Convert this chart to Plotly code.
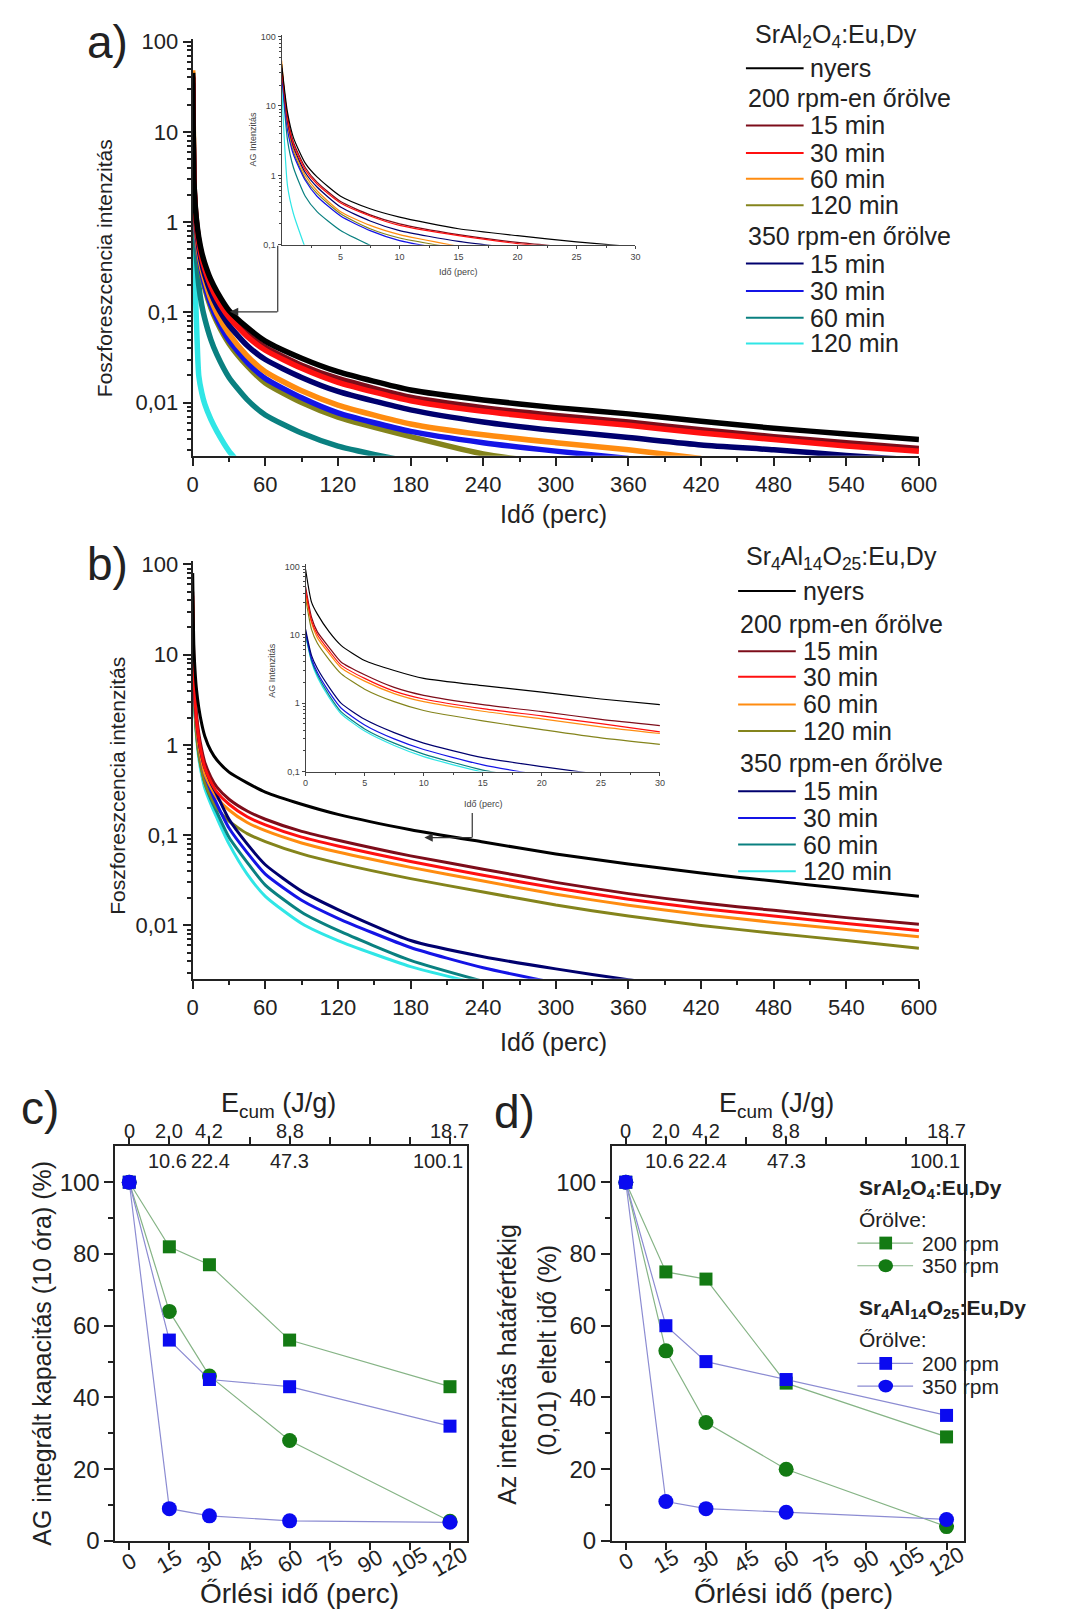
import plotly.graph_objects as go

W, H = 1065, 1623
FONT = "Liberation Sans, Arial, sans-serif"


def fx(p):
    return p / W


def fy(p):
    return 1 - p / H


# ---------------- data ----------------
# afterglow decay, main panels (time in minutes)
T_MAIN = [0, 1, 2, 3, 5, 7.5, 10, 15, 20, 30, 45, 60, 90, 120, 180, 240, 300, 360, 420, 480, 540, 600]
# afterglow decay, insets (first 30 minutes)
T_INSET = [0, 0.5, 1, 2, 3, 5, 7.5, 10, 15, 20, 25, 30]

series_labels = ["nyers", "15 min", "30 min", "60 min", "120 min", "15 min", "30 min", "60 min", "120 min"]
series_colors = ["#000000", "#7d0d1a", "#ff1010", "#ff8c10", "#84841c",
                 "#00006e", "#1414e6", "#0a8080", "#30e6e6"]

# a) SrAl2O4:Eu,Dy
a_nyers = [45, 3.0, 1.6, 1.1, 0.68, 0.46, 0.35, 0.23, 0.17, 0.105, 0.068, 0.048, 0.031, 0.022, 0.0138, 0.0107, 0.0088, 0.0075, 0.0062, 0.0052, 0.0045, 0.0039]
a_200_15 = [40, 3.0, 1.55, 1.05, 0.63, 0.42, 0.32, 0.205, 0.15, 0.093, 0.058, 0.041, 0.026, 0.0185, 0.0115, 0.0088, 0.0072, 0.0061, 0.005, 0.0042, 0.0036, 0.0031]
a_200_30 = [42, 2.9, 1.5, 1.0, 0.6, 0.4, 0.3, 0.195, 0.142, 0.088, 0.054, 0.038, 0.024, 0.0168, 0.0105, 0.008, 0.0066, 0.0056, 0.0046, 0.0039, 0.0033, 0.0029]
a_200_60 = [48, 2.6, 1.3, 0.85, 0.48, 0.31, 0.23, 0.14, 0.098, 0.058, 0.033, 0.022, 0.0135, 0.0094, 0.0058, 0.0044, 0.0036, 0.003, 0.0024, None, None, None]
a_200_120 = [40, 2.3, 1.15, 0.74, 0.41, 0.26, 0.185, 0.112, 0.078, 0.045, 0.0255, 0.0165, 0.01, 0.0069, 0.0042, 0.0027, 0.0021, None, None, None, None, None]
a_350_15 = [35, 2.7, 1.4, 0.92, 0.54, 0.35, 0.26, 0.165, 0.118, 0.072, 0.043, 0.03, 0.019, 0.0133, 0.0083, 0.0061, 0.0049, 0.0041, 0.0034, 0.003, 0.0026, 0.0023]
a_350_30 = [30, 2.4, 1.2, 0.78, 0.44, 0.28, 0.2, 0.122, 0.085, 0.049, 0.028, 0.0185, 0.0113, 0.0077, 0.0048, 0.0036, 0.0029, 0.0024, None, None, None, None]
a_350_60 = [30, 1.6, 0.7, 0.42, 0.2, 0.12, 0.085, 0.05, 0.034, 0.019, 0.0108, 0.0073, 0.0046, 0.0033, 0.0022, None, None, None, None, None, None, None]
a_350_120 = [20, 0.6, 0.2, 0.085, 0.02, 0.0128, 0.0096, 0.0065, 0.0048, 0.0029, 0.0017, None, None, None, None, None, None, None, None, None, None, None]

ia_nyers = [40, 8, 3.5, 1.5, 0.95, 0.5, 0.33, 0.25, 0.17, 0.135, 0.11, 0.093]
ia_200_15 = [35, 7, 3.0, 1.3, 0.8, 0.42, 0.27, 0.2, 0.14, 0.108, 0.09, None]
ia_200_30 = [35, 6.5, 2.8, 1.2, 0.75, 0.4, 0.26, 0.19, 0.135, 0.104, 0.088, None]
ia_200_60 = [45, 5.5, 2.4, 1.0, 0.6, 0.3, 0.19, 0.14, 0.095, None, None, None]
ia_200_120 = [40, 5, 2.2, 0.9, 0.55, 0.28, 0.17, 0.125, 0.088, None, None, None]
ia_350_15 = [35, 6, 2.6, 1.1, 0.68, 0.35, 0.22, 0.16, 0.112, 0.088, None, None]
ia_350_30 = [30, 4.5, 2.0, 0.85, 0.5, 0.26, 0.16, 0.115, 0.08, None, None, None]
ia_350_60 = [30, 3.2, 1.3, 0.5, 0.3, 0.16, 0.098, None, None, None, None, None]
ia_350_120 = [20, 0.7, 0.28, 0.09, None, None, None, None, None, None, None, None]

# b) Sr4Al14O25:Eu,Dy
b_nyers = [80, 12, 6.5, 4.3, 2.6, 1.7, 1.25, 0.86, 0.68, 0.5, 0.38, 0.3, 0.22, 0.17, 0.115, 0.084, 0.062, 0.048, 0.038, 0.031, 0.0255, 0.021]
b_200_15 = [50, 7, 3.6, 2.3, 1.35, 0.88, 0.64, 0.44, 0.34, 0.25, 0.185, 0.15, 0.11, 0.088, 0.059, 0.042, 0.03, 0.0225, 0.0178, 0.0147, 0.0122, 0.0103]
b_200_30 = [45, 6.2, 3.2, 2.0, 1.18, 0.77, 0.56, 0.39, 0.3, 0.22, 0.16, 0.13, 0.095, 0.076, 0.051, 0.036, 0.026, 0.0195, 0.0154, 0.0127, 0.0105, 0.0088]
b_200_60 = [40, 5.4, 2.8, 1.75, 1.0, 0.66, 0.48, 0.34, 0.26, 0.19, 0.138, 0.112, 0.082, 0.065, 0.044, 0.031, 0.0222, 0.0167, 0.0132, 0.0108, 0.009, 0.0075]
b_200_120 = [35, 4.4, 2.3, 1.4, 0.8, 0.52, 0.38, 0.265, 0.2, 0.143, 0.104, 0.085, 0.062, 0.049, 0.033, 0.0235, 0.0168, 0.0127, 0.01, 0.0082, 0.0068, 0.0056]
b_350_15 = [11, 5.0, 3.0, 2.0, 1.15, 0.75, 0.56, 0.38, 0.28, 0.15, 0.08, 0.047, 0.024, 0.015, 0.0068, 0.0045, 0.0033, 0.0025, 0.002, None, None, None]
b_350_30 = [10, 4.5, 2.7, 1.8, 1.0, 0.65, 0.47, 0.31, 0.22, 0.12, 0.064, 0.037, 0.019, 0.012, 0.0057, 0.0034, 0.0023, None, None, None, None, None]
b_350_60 = [9, 3.8, 2.2, 1.45, 0.82, 0.53, 0.38, 0.25, 0.18, 0.095, 0.05, 0.028, 0.014, 0.0088, 0.0041, 0.0024, None, None, None, None, None, None]
b_350_120 = [9, 3.6, 2.0, 1.3, 0.72, 0.46, 0.33, 0.22, 0.155, 0.08, 0.037, 0.021, 0.0105, 0.0068, 0.0035, 0.0022, None, None, None, None, None, None]

ib_nyers = [90, 30, 20, 11, 7, 4.2, 3.0, 2.3, 1.8, 1.45, 1.15, 0.95]
ib_200_15 = [50, 18, 11, 6.5, 4, 2.6, 1.7, 1.3, 0.95, 0.75, 0.58, 0.47]
ib_200_30 = [45, 16, 10, 5.8, 3.6, 2.3, 1.5, 1.15, 0.83, 0.65, 0.5, 0.38]
ib_200_60 = [40, 15, 9, 5.3, 3.3, 2.1, 1.38, 1.05, 0.76, 0.59, 0.45, 0.36]
ib_200_120 = [35, 12, 7.5, 4.3, 2.7, 1.6, 1.05, 0.78, 0.55, 0.41, 0.31, 0.25]
ib_350_15 = [12, 5, 3.2, 1.7, 1.0, 0.58, 0.37, 0.26, 0.16, 0.118, 0.09, None]
ib_350_30 = [11, 4.5, 2.8, 1.45, 0.85, 0.48, 0.3, 0.21, 0.125, 0.088, None, None]
ib_350_60 = [10, 4.2, 2.6, 1.3, 0.75, 0.42, 0.26, 0.18, 0.105, 0.075, None, None]
ib_350_120 = [10, 4.0, 2.4, 1.2, 0.7, 0.39, 0.24, 0.165, 0.098, 0.07, None, None]

# c), d) milling series
mill_time = [0, 15, 30, 60, 120]
c_sral_200 = [100, 82, 77, 56, 43]
c_sral_350 = [100, 64, 46, 28, 5.5]
c_sr4_200 = [100, 56, 45, 43, 32]
c_sr4_350 = [100, 9, 7, 5.6, 5.2]
d_sral_200 = [100, 75, 73, 44, 29]
d_sral_350 = [100, 53, 33, 20, 4]
d_sr4_200 = [100, 60, 50, 45, 35]
d_sr4_350 = [100, 11, 9, 8, 6]

# cumulative milling energy labels on the top axis
ecum_upper_pos = [0, 15, 30, 60, 120]
ecum_upper_text = ["0", "2.0", "4.2", "8.8", "18.7"]
ecum_lower_pos = [14.5, 30.5, 60, 115.5]
ecum_lower_text = ["10.6", "22.4", "47.3", "100.1"]

log_ticks = [0.01, 0.1, 1, 10, 100]
log_text = ["0,01", "0,1", "1", "10", "100"]
time_ticks = list(range(0, 601, 60))
mill_ticks = [0, 15, 30, 45, 60, 75, 90, 105, 120]
mill_tick_text = ["0", "15", "30", "45", "60", "75", "90", "105", "120"]

GREEN = "#137a13"
BLUE = "#0a0af0"
GREEN_LINE = "#86b486"
BLUE_LINE = "#8c8cd2"

fig = go.Figure()


def add_decays(xs, series, width, xa, ya, order):
    for i in order:
        fig.add_trace(go.Scatter(
            x=xs, y=series[i], mode="lines",
            line=dict(color=series_colors[i], width=width, shape="spline", smoothing=0.6),
            xaxis=xa, yaxis=ya, showlegend=False, hoverinfo="skip"))


draw_order = [8, 7, 4, 6, 3, 5, 1, 2, 0]
a_series = [a_nyers, a_200_15, a_200_30, a_200_60, a_200_120, a_350_15, a_350_30, a_350_60, a_350_120]
ia_series = [ia_nyers, ia_200_15, ia_200_30, ia_200_60, ia_200_120, ia_350_15, ia_350_30, ia_350_60, ia_350_120]
b_series = [b_nyers, b_200_15, b_200_30, b_200_60, b_200_120, b_350_15, b_350_30, b_350_60, b_350_120]
ib_series = [ib_nyers, ib_200_15, ib_200_30, ib_200_60, ib_200_120, ib_350_15, ib_350_30, ib_350_60, ib_350_120]

add_decays(T_MAIN, a_series, 5.5, "x", "y", draw_order)
add_decays(T_INSET, ia_series, 1.2, "x2", "y2", draw_order)
add_decays(T_MAIN, b_series, 3, "x3", "y3", draw_order)
add_decays(T_INSET, ib_series, 1.2, "x4", "y4", draw_order)


def add_mill(ys, color, lcolor, symbol, size, xa, ya):
    fig.add_trace(go.Scatter(
        x=mill_time, y=ys, mode="lines+markers",
        line=dict(color=lcolor, width=1.2),
        marker=dict(color=color, symbol=symbol, size=size, line=dict(width=0)),
        xaxis=xa, yaxis=ya, showlegend=False, hoverinfo="skip", cliponaxis=False))


for xa, ya, s200, s350, r200, r350 in [("x5", "y5", c_sral_200, c_sral_350, c_sr4_200, c_sr4_350),
                                        ("x7", "y7", d_sral_200, d_sral_350, d_sr4_200, d_sr4_350)]:
    add_mill(s200, GREEN, GREEN_LINE, "square", 13, xa, ya)
    add_mill(s350, GREEN, GREEN_LINE, "circle", 15, xa, ya)
    add_mill(r200, BLUE, BLUE_LINE, "square", 13, xa, ya)
    add_mill(r350, BLUE, BLUE_LINE, "circle", 15, xa, ya)


# ---------------- axes ----------------
def log_minor(lo, hi):
    vals = []
    e = lo
    while e < hi:
        for m in range(2, 10):
            vals.append(m * 10 ** e)
        e += 1
    return vals


main_x = dict(range=[0, 600], tickmode="array", tickvals=time_ticks, ticks="outside", ticklen=8,
              tickwidth=1.5, tickcolor="#222", showline=True, linewidth=2, linecolor="#222",
              showgrid=False, zeroline=False, tickfont=dict(size=22, color="#222", family=FONT),
              minor=dict(tickmode="array", tickvals=list(range(30, 600, 60)), ticks="outside",
                         ticklen=4, tickcolor="#222", showgrid=False))
main_y = dict(type="log", range=[-2.59, 2.033], tickmode="array", tickvals=log_ticks, ticktext=log_text,
              ticks="outside", ticklen=8, tickwidth=1.5, tickcolor="#222", showline=True, linewidth=2,
              linecolor="#222", showgrid=False, zeroline=False,
              tickfont=dict(size=22, color="#222", family=FONT),
              minor=dict(tickmode="array", tickvals=log_minor(-3, 2), ticks="outside", ticklen=4,
                         tickcolor="#222", showgrid=False))

inset_font = dict(size=9, color="#444", family=FONT)


def inset_x(labels):
    return dict(range=[0, 30], tickmode="array", tickvals=labels, ticks="outside", ticklen=3,
                tickcolor="#444", showline=True, linewidth=1, linecolor="#444", showgrid=False,
                zeroline=False, tickfont=inset_font,
                minor=dict(tickmode="array", tickvals=[2.5, 7.5, 12.5, 17.5, 22.5, 27.5],
                           ticks="outside", ticklen=2, tickcolor="#444", showgrid=False))


def inset_y(top):
    return dict(type="log", range=[-1, top], tickmode="array", tickvals=[0.1, 1, 10, 100],
                ticktext=["0,1", "1", "10", "100"], ticks="outside", ticklen=3, tickcolor="#444",
                showline=True, linewidth=1, linecolor="#444", showgrid=False, zeroline=False,
                tickfont=inset_font,
                minor=dict(tickmode="array", tickvals=log_minor(-1, 2), ticks="outside", ticklen=2,
                           tickcolor="#444", showgrid=False))


mill_range = [-5.15, 126.5]
mill_font = dict(size=24, color="#222", family=FONT)


def mill_x():
    return dict(range=mill_range, tickmode="array", tickvals=mill_ticks, showticklabels=False,
                ticks="outside", ticklen=7, tickwidth=1.5, tickcolor="#222", showline=True,
                linewidth=2, linecolor="#222", mirror="allticks", showgrid=False, zeroline=False)


def mill_top(over, anchor):
    return dict(range=mill_range, overlaying=over, anchor=anchor, side="top", tickmode="array",
                tickvals=mill_ticks, showticklabels=False, ticks="inside", ticklen=7, tickwidth=1.5,
                tickcolor="#222", showline=False, showgrid=False, zeroline=False)


def mill_y():
    return dict(range=[0, 110], tickmode="array", tickvals=[0, 20, 40, 60, 80, 100], ticks="outside",
                ticklen=9, tickwidth=1.5, tickcolor="#222", showline=True, linewidth=2,
                linecolor="#222", mirror=True, showgrid=False, zeroline=False, tickfont=mill_font,
                minor=dict(tickmode="array", tickvals=[10, 30, 50, 70, 90], ticks="outside",
                           ticklen=5, tickcolor="#222", showgrid=False))


layout = dict(
    width=W, height=H, autosize=False, margin=dict(l=0, r=0, t=0, b=0),
    paper_bgcolor="white", plot_bgcolor="rgba(0,0,0,0)", font=dict(family=FONT, color="#222"),
    xaxis=dict(domain=[fx(191), fx(934)], anchor="y", **main_x),
    yaxis=dict(domain=[fy(453), fy(30)], anchor="x", **main_y),
    xaxis2=dict(domain=[fx(282), fx(644)], anchor="y2", **inset_x([5, 10, 15, 20, 25, 30])),
    yaxis2=dict(domain=[fy(239), fy(26)], anchor="x2", **inset_y(2.028)),
    xaxis3=dict(domain=[fx(191), fx(934)], anchor="y3", **main_x),
    yaxis3=dict(domain=[fy(983), fy(560)], anchor="x3", **main_y),
    xaxis4=dict(domain=[fx(306.5), fx(669)], anchor="y4", **inset_x([0, 5, 10, 15, 20, 25, 30])),
    yaxis4=dict(domain=[fy(773), fy(563)], anchor="x4", **inset_y(2.029)),
    xaxis5=dict(domain=[fx(112), fx(472)], anchor="y5", **mill_x()),
    xaxis6=mill_top("x5", "y5"),
    yaxis5=dict(domain=[fy(1553), fy(1153)], anchor="x5", **mill_y()),
    xaxis7=dict(domain=[fx(620), fx(980)], anchor="y7", **mill_x()),
    xaxis8=mill_top("x7", "y7"),
    yaxis7=dict(domain=[fy(1553), fy(1153)], anchor="x7", **mill_y()),
)
fig.update_layout(**layout)

annotations = []
shapes = []


def text(x, y, s, size, angle=0, color="#222", xanchor="center", xref="paper", bold=False):
    if bold:
        s = "<b>" + s + "</b>"
    annotations.append(dict(x=x if xref != "paper" else fx(x), y=fy(y), xref=xref, yref="paper",
                            text=s, showarrow=False, textangle=angle, xanchor=xanchor,
                            yanchor="middle", font=dict(size=size, color=color, family=FONT)))


# panel letters
text(104, 33, "a)", 46)
text(104, 563, "b)", 46)
text(35, 1114, "c)", 46)
text(520, 1118, "d)", 46)

# main axis titles
text(560, 512, "Idő (perc)", 25)
text(560, 1047, "Idő (perc)", 25)
text(101, 263, "Foszforeszcencia intenzitás", 21, angle=-90)
text(114, 787, "Foszforeszcencia intenzitás", 21, angle=-90)

# inset titles
text(253, 132, "AG Intenzitás", 9, angle=-90, color="#444")
text(463, 267, "Idő (perc)", 9, color="#444")
text(272, 670, "AG Intenzitás", 9, angle=-90, color="#444")
text(488, 806, "Idő (perc)", 9, color="#444")

# arrows from the insets to the main curves
shapes.append(dict(type="line", xref="paper", yref="paper", x0=fx(278), y0=fy(240), x1=fx(278),
                   y1=fy(307), line=dict(color="#333", width=1.2)))
annotations.append(dict(x=fx(229), y=fy(307), xref="paper", yref="paper", ax=49, ay=0, axref="pixel",
                        ayref="pixel", text="", showarrow=True, arrowhead=2, arrowsize=1.4,
                        arrowwidth=1.2, arrowcolor="#333"))
shapes.append(dict(type="line", xref="paper", yref="paper", x0=fx(477), y0=fy(815), x1=fx(477),
                   y1=fy(840), line=dict(color="#333", width=1.2)))
annotations.append(dict(x=fx(428), y=fy(840), xref="paper", yref="paper", ax=49, ay=0, axref="pixel",
                        ayref="pixel", text="", showarrow=True, arrowhead=2, arrowsize=1.4,
                        arrowwidth=1.2, arrowcolor="#333"))


# legends of the decay panels
def decay_legend(header, hx, hy, lx0, lx1, tx, rows):
    text(hx, hy, header, 25, xanchor="left")
    for kind, y, idx, label in rows:
        if kind == "h":
            text(lx0, y, label, 25, xanchor="left")
        else:
            shapes.append(dict(type="line", xref="paper", yref="paper", x0=fx(lx0), x1=fx(lx1),
                               y0=fy(y), y1=fy(y), line=dict(color=series_colors[idx], width=2)))
            text(tx, y, label, 25, xanchor="left")


def legend_rows(ys):
    return [("l", ys[0], 0, series_labels[0]),
            ("h", ys[1], None, "200 rpm-en őrölve"),
            ("l", ys[2], 1, series_labels[1]),
            ("l", ys[3], 2, series_labels[2]),
            ("l", ys[4], 3, series_labels[3]),
            ("l", ys[5], 4, series_labels[4]),
            ("h", ys[6], None, "350 rpm-en őrölve"),
            ("l", ys[7], 5, series_labels[5]),
            ("l", ys[8], 6, series_labels[6]),
            ("l", ys[9], 7, series_labels[7]),
            ("l", ys[10], 8, series_labels[8])]


decay_legend("SrAl<sub>2</sub>O<sub>4</sub>:Eu,Dy", 764, 27, 757, 816, 821,
             legend_rows([60, 90, 118, 146, 172, 199, 230, 258, 286, 313, 339]))
decay_legend("Sr<sub>4</sub>Al<sub>14</sub>O<sub>25</sub>:Eu,Dy", 755, 557, 749, 808, 813,
             legend_rows([590, 623, 651, 677, 705, 732, 764, 793, 820, 847, 874]))

# milling panels: tick labels, titles and energy labels
for xa, cx_title, cx_e in [("x5", 300, 279), ("x7", 806, 788)]:
    for p, s in zip(mill_ticks, mill_tick_text):
        text(p, 1574, s, 22, angle=-30, xref=xa)
    text(cx_title, 1606, "Őrlési idő (perc)", 28)
    text(cx_e, 1111, "E<sub>cum</sub> (J/g)", 27)
    for p, s in zip(ecum_upper_pos, ecum_upper_text):
        text(p, 1137, s, 20, xref=xa)
    for p, s in zip(ecum_lower_pos, ecum_lower_text):
        text(p, 1168, s, 20, xref=xa)

text(36, 1363, "AG integrált kapacitás (10 óra) (%)", 25, angle=-90)
text(513, 1374, "Az intenzitás határértékig", 25, angle=-90)
text(553, 1360, "(0,01) eltelt idő (%)", 25, angle=-90)

# legend of panel d
leg_x0, leg_x1, leg_mx, leg_tx = 871, 928, 900, 935
text(leg_x0, 1196, "SrAl<sub>2</sub>O<sub>4</sub>:Eu,Dy", 21, xanchor="left", bold=True)
text(leg_x0, 1227, "Őrölve:", 21, xanchor="left")
text(leg_x0, 1318, "Sr<sub>4</sub>Al<sub>14</sub>O<sub>25</sub>:Eu,Dy", 21, xanchor="left", bold=True)
text(leg_x0, 1349, "Őrölve:", 21, xanchor="left")
for y, color, lcolor, sym, label in [(1251, GREEN, GREEN_LINE, "rect", "200 rpm"),
                                     (1274, GREEN, GREEN_LINE, "circle", "350 rpm"),
                                     (1373, BLUE, BLUE_LINE, "rect", "200 rpm"),
                                     (1396, BLUE, BLUE_LINE, "circle", "350 rpm")]:
    shapes.append(dict(type="line", xref="paper", yref="paper", x0=fx(leg_x0), x1=fx(leg_x1),
                       y0=fy(y), y1=fy(y), line=dict(color=lcolor, width=1.2)))
    r = 6.5 if sym == "rect" else 7.5
    ry = 6.5
    shapes.append(dict(type=sym, xref="paper", yref="paper", x0=fx(leg_mx - r), x1=fx(leg_mx + r),
                       y0=fy(y + ry), y1=fy(y - ry), fillcolor=color, line=dict(width=0)))
    text(leg_tx, y, label, 21, xanchor="left")

fig.update_layout(annotations=annotations, shapes=shapes)
fig.write_html("out.html")
